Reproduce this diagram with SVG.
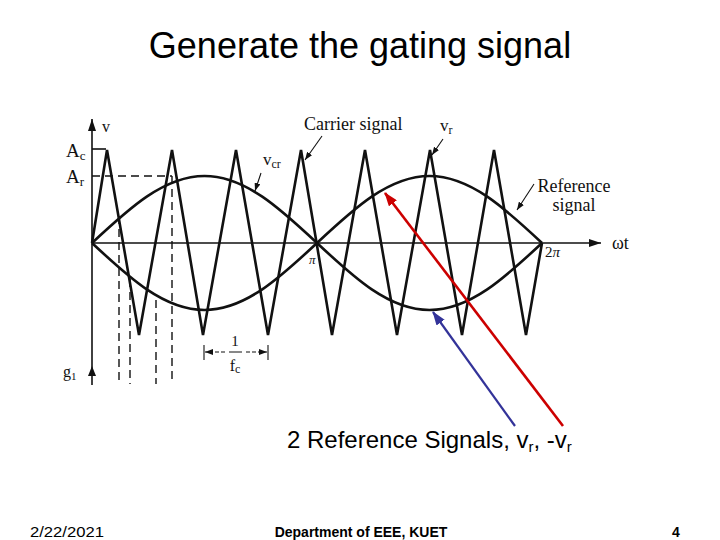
<svg xmlns="http://www.w3.org/2000/svg" width="720" height="540" viewBox="0 0 720 540">
<style>
.sans{font-family:"Liberation Sans",Arial,sans-serif;fill:#000}
.serif{font-family:"Liberation Serif","Times New Roman",serif;fill:#111}
.wave{fill:none;stroke:#111;stroke-width:2.6;stroke-linejoin:miter}
.axis{fill:none;stroke:#111;stroke-width:1.6}
.dash{fill:none;stroke:#111;stroke-width:1.4;stroke-dasharray:8 5}
.ann{fill:none;stroke:#111;stroke-width:1.1}
</style>
<defs>
<marker id="axArrow" markerUnits="userSpaceOnUse" markerWidth="12" markerHeight="8" refX="12" refY="4" orient="auto">
<path d="M0,0 L12,4 L0,8 z" fill="#111"/>
</marker>
<marker id="smallArrow" markerUnits="userSpaceOnUse" markerWidth="8" markerHeight="6" refX="8" refY="3" orient="auto">
<path d="M0,0 L8,3 L0,6 z" fill="#111"/>
</marker>
<marker id="redHead" markerUnits="userSpaceOnUse" markerWidth="14" markerHeight="10" refX="13" refY="5" orient="auto">
<path d="M0,0 L14,5 L0,10 z" fill="#cc0000"/>
</marker>
<marker id="blueHead" markerUnits="userSpaceOnUse" markerWidth="14" markerHeight="10" refX="13" refY="5" orient="auto">
<path d="M0,0 L14,5 L0,10 z" fill="#333399"/>
</marker>
</defs>
<rect width="720" height="540" fill="#fff"/>

<g id="title">
<text class="sans" x="360" y="58" font-size="36" text-anchor="middle">Generate the gating signal</text>
</g>

<g id="axes">
<line class="axis" x1="92" y1="385" x2="92" y2="119" marker-end="url(#axArrow)"/>
<line class="axis" x1="92" y1="243" x2="601" y2="243" marker-end="url(#axArrow)"/>
<path d="M92,366 L88,376 L96,376 z" fill="#111"/>
<line class="axis" x1="92" y1="149" x2="106" y2="149"/>
</g>

<g id="dashed-lines">
<line class="dash" x1="92" y1="176" x2="172" y2="176"/>
<line class="dash" x1="119" y1="216" x2="119" y2="384"/>
<line class="dash" x1="130" y1="279" x2="130" y2="384"/>
<line class="dash" x1="156" y1="300" x2="156" y2="384"/>
<line class="dash" x1="172" y1="176" x2="172" y2="384"/>
</g>

<g id="carrier">
<polyline class="wave" points="92,243 107,150 139,335 172,150 203,335 236,150 268,335 301,150 332,335 365,150 397,335 430,150 462,335 494,150 526,335 542,243"/>
</g>

<g id="reference-vr">
<path class="wave" d="M92,243 C128.69,208.68 163.79,176 204.5,176 S280.31,208.68 317,243 S388.79,310 429.5,310 S505.31,277.32 542,243"/>
</g>
<g id="reference-neg-vr">
<path class="wave" d="M92,243 C128.69,277.32 163.79,310 204.5,310 S280.31,277.32 317,243 S388.79,176 429.5,176 S505.31,208.68 542,243"/>
</g>

<g id="axis-labels">
<text class="serif" x="102" y="132" font-size="16">v</text>
<text class="serif" x="66" y="157" font-size="19">A<tspan font-size="13" dy="3">c</tspan></text>
<text class="serif" x="66" y="183" font-size="19">A<tspan font-size="13" dy="3">r</tspan></text>
<text class="serif" x="309" y="264" font-size="13" font-style="italic">π</text>
<text class="serif" x="545" y="257" font-size="15">2<tspan font-style="italic">π</tspan></text>
<text class="serif" x="612" y="249" font-size="18">ωt</text>
<text class="serif" x="63" y="377" font-size="16">g<tspan font-size="11" dy="3">1</tspan></text>
</g>

<g id="period-label">
<text class="serif" x="235" y="346" font-size="15" text-anchor="middle">1</text>
<line x1="229" y1="352" x2="242" y2="352" stroke="#111" stroke-width="1"/>
<text class="serif" x="235" y="371" font-size="16" text-anchor="middle">f<tspan font-size="12" dy="2">c</tspan></text>
<line class="ann" x1="204" y1="345" x2="204" y2="360"/>
<line class="ann" x1="268" y1="345" x2="268" y2="360"/>
<line class="ann" x1="225" y1="352" x2="205" y2="352" stroke-dasharray="4 2" marker-end="url(#smallArrow)"/>
<line class="ann" x1="246" y1="352" x2="267" y2="352" stroke-dasharray="4 2" marker-end="url(#smallArrow)"/>
</g>

<g id="carrier-label">
<text class="serif" x="304" y="130" font-size="18">Carrier signal</text>
<line class="ann" x1="322" y1="136" x2="305" y2="160" marker-end="url(#smallArrow)"/>
</g>
<g id="vcr-label">
<text class="serif" x="263" y="165" font-size="17">v<tspan font-size="12" dy="3">cr</tspan></text>
<line class="ann" x1="261" y1="173" x2="255" y2="191" marker-end="url(#smallArrow)"/>
</g>
<g id="vr-label">
<text class="serif" x="440" y="131" font-size="17">v<tspan font-size="12" dy="3">r</tspan></text>
<line class="ann" x1="443" y1="139" x2="432" y2="155" marker-end="url(#smallArrow)"/>
</g>
<g id="reference-label">
<text class="serif" x="574" y="192" font-size="18" text-anchor="middle">Reference</text>
<text class="serif" x="574" y="211" font-size="18" text-anchor="middle">signal</text>
<line class="ann" x1="534" y1="184" x2="517" y2="210" marker-end="url(#smallArrow)"/>
</g>

<g id="connectors">
<line x1="563" y1="426" x2="385" y2="193" stroke="#cc0000" stroke-width="2.6" marker-end="url(#redHead)"/>
<line x1="515" y1="426" x2="433" y2="312" stroke="#333399" stroke-width="2.2" marker-end="url(#blueHead)"/>
</g>

<g id="signals-note">
<text class="sans" x="287" y="448" font-size="24">2 Reference Signals, v<tspan font-size="15" dy="4">r</tspan><tspan dy="-4">, -v</tspan><tspan font-size="15" dy="4">r</tspan></text>
</g>

<g id="footer">
<text class="sans" x="30" y="537" font-size="14" textLength="74" lengthAdjust="spacingAndGlyphs">2/22/2021</text>
<text class="sans" x="361" y="537" font-size="14" font-weight="bold" text-anchor="middle">Department of EEE, KUET</text>
<text class="sans" x="676" y="537" font-size="14" font-weight="bold" text-anchor="middle">4</text>
</g>
</svg>
